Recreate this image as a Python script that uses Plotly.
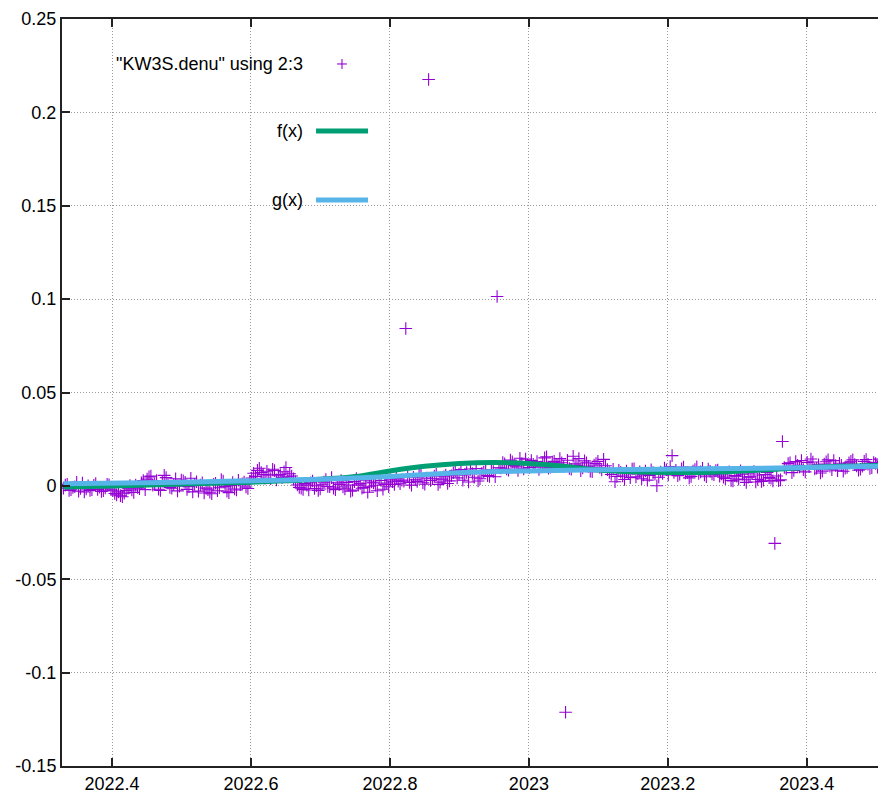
import plotly.graph_objects as go

# ---------------- data ----------------
# observation epochs: two interleaved sets, each one sample every 2 days
t_start_a = 2022.330          # first set starts here (decimal year)
t_start_b = 2022.330 + 1 / 365.25   # second set: one day later
t_step_days = 2.0

# displacement values (mm), in time order
obs_a_mm = [
    # 2022.33 - 2022.40
    -1.2, 0.8, -2.1, -0.5, -2.8, 1.5, -1.6, -2.4, 0.3, -1.9, -3.0, -1.1, 0.6,
    # 2022.40 - 2022.45
    -2.6, -4.8, -5.3, -3.9, -1.2, -2.2, 0.4, -1.5, 2.8,
    # 2022.45 - 2022.53
    3.6, 5.2, 1.1, -1.8, 2.5, 4.4, -0.9, 0.7, -2.7, 3.1, 1.9, -0.4, -3.2, 2.2, 0.5,
    # 2022.53 - 2022.60
    -3.8, -2.1, -4.2, 1.4, -1.0, 2.6, -2.9, 0.2, -1.7, 3.0, 1.1, -0.6, 2.4,
    # 2022.60 - 2022.656
    6.8, 8.3, 7.2, 4.1, 5.9, 8.9, 3.2, 6.1, 7.6, 4.8,
    # 2022.656 - 2022.728
    5.3, 2.2, -0.8, -1.9, 0.4, 1.7, -1.4, -2.5, 0.9, 3.4, -0.5, -1.2, 1.6,
    # 2022.728 - 2022.814
    2.8, -1.6, 0.5, -2.3, 3.9, 1.2, -0.9, -3.4, 2.1, 0.3, 4.1, -1.8, 1.5, 3.2, 0.7, 2.5,
    # 2022.814 - 2022.886
    3.1, 84.3, 1.8, 4.6, 2.4, 5.7, 0.9, 217.6, 3.8, 6.2, 2.0, 4.9, 1.3,
    # 2022.886 - 2022.958
    5.4, 8.1, 6.3, 3.0, 7.2, 9.0, 4.6, 2.6, 6.8, 8.4, 5.1, 7.7, 101.4,
    # 2022.958 - 2023.045
    9.6, 11.8, 8.4, 12.9, 10.2, 14.8, 9.1, 11.3, 13.6, 10.7, 8.8, 12.2, 15.6, 10.0, 13.1, 11.5,
    # 2023.045 - 2023.117
    12.4, -121.2, 9.3, 15.9, 11.0, 8.1, 13.4, 10.5, 7.6, 12.0, 9.8, 14.2, 8.7,
    # 2023.117 - 2023.188
    6.1, 2.2, 8.4, 5.3, 7.9, 4.4, 9.2, 6.7, 3.8, 8.0, 5.6, 7.1, 0.1,
    # 2023.188 - 2023.275
    7.4, 9.6, 5.8, 16.2, 8.3, 6.2, 10.1, 7.0, 5.1, 8.8, 6.6, 9.4, 4.9, 7.8, 6.0, 8.5,
    # 2023.275 - 2023.36
    6.4, 3.9, 7.5, 2.6, 5.2, 8.1, 3.3, 4.7, 6.9, 2.1, 5.8, 3.0, 7.2, 4.1, -30.8, 2.8,
    # 2023.36 - 2023.52
    23.8, 9.1, 12.4, 8.2, 11.0, 13.6, 7.5, 10.3, 12.8, 9.4, 6.9, 11.7, 13.9, 8.6,
    10.9, 12.1, 7.8, 9.9, 13.2, 11.4, 8.4, 10.6, 14.1, 9.3, 12.5, 10.0, 13.4, 11.2,
]

obs_b_mm = [
    0.4, -2.5, -0.9, 1.9, -1.4, -3.3, 0.1, -2.0, 1.2, -0.7, -2.6, 0.9, -1.8,
    -4.1, -3.2, -5.8, -2.4, 0.2, -3.5, -0.8, 1.6, -2.0,
    4.8, 0.3, 2.9, -2.4, 5.6, 1.4, -1.3, 3.8, -0.2, 2.7, -1.9, 4.1, 0.9, -2.8, 1.7,
    -1.2, -3.4, 0.8, -2.6, 3.4, -0.4, -3.6, 1.8, -2.2, 0.6, 2.1, -1.4, 4.2,
    5.1, 9.4, 6.0, 7.8, 3.9, 8.2, 5.4, 4.5, 9.8, 6.5,
    3.8, 0.5, -1.3, 1.2, -2.2, 2.6, 0.1, -1.7, 2.0, -0.3, 4.4, -2.0, 0.7,
    -0.6, 1.9, -2.8, 2.3, 0.4, -1.3, 3.0, -0.2, 1.6, -2.6, 2.9, 0.8, -0.5, 2.2, 4.0, 1.1,
    2.5, 5.0, 0.4, 3.3, 6.0, 1.7, 4.2, 2.9, 5.3, 0.8, 3.6, 5.8, 2.7,
    7.0, 4.3, 8.8, 5.9, 2.1, 6.6, 9.3, 3.8, 7.4, 5.5, 8.6, 4.9, 9.7,
    12.5, 9.0, 13.8, 10.9, 8.2, 12.0, 14.3, 9.8, 11.6, 13.0, 10.1, 15.0, 9.4, 12.7, 11.1, 14.6,
    10.4, 13.7, 8.9, 11.8, 14.6, 9.6, 12.3, 7.9, 11.2, 13.1, 8.5, 10.8, 7.2,
    8.9, 5.0, 7.3, 3.4, 6.5, 9.0, 4.8, 7.6, 5.9, 3.1, 8.6, 6.3, 4.6,
    6.7, 8.6, 10.4, 7.2, 5.5, 9.1, 6.9, 4.3, 8.0, 10.2, 7.5, 5.8, 9.0, 6.4, 8.2, 5.2,
    4.6, 7.0, 2.9, 5.5, 3.6, 6.3, 1.9, 4.9, 7.7, 3.5, 2.4, 6.1, 4.4, 2.7, 5.3, 3.2,
    9.8, 11.9, 7.1, 13.0, 10.1, 8.7, 12.6, 14.4, 9.0, 11.3, 7.9, 12.9, 10.5, 13.5,
    8.1, 11.0, 9.5, 12.3, 14.0, 10.7, 8.9, 13.1, 11.6, 9.7, 12.0, 14.3, 10.4, 12.7,
]

# fitted curve f(x) (decimal year, mm)
f_t = [2022.33, 2022.40, 2022.50, 2022.60, 2022.70, 2022.75, 2022.80, 2022.85,
       2022.90, 2022.95, 2023.00, 2023.05, 2023.10, 2023.15, 2023.20, 2023.25,
       2023.30, 2023.35, 2023.40, 2023.45, 2023.52]
f_mm = [-0.6, 0.0, 1.0, 2.0, 3.5, 5.0, 8.0, 10.5,
        12.0, 12.5, 12.0, 10.5, 8.5, 7.5, 7.2, 7.2,
        7.8, 8.8, 9.8, 10.5, 11.0]

# fitted curve g(x) (decimal year, mm)
g_t = [2022.33, 2022.50, 2022.70, 2022.80, 2022.90, 2023.00, 2023.10,
       2023.20, 2023.30, 2023.40, 2023.52]
g_mm = [1.2, 2.0, 3.6, 5.0, 7.0, 8.0, 8.6, 9.0, 9.3, 9.8, 10.6]

x_ticks = [2022.4, 2022.6, 2022.8, 2023.0, 2023.2, 2023.4]
x_tick_labels = ["2022.4", "2022.6", "2022.8", "2023", "2023.2", "2023.4"]
y_ticks = [-0.15, -0.1, -0.05, 0.0, 0.05, 0.1, 0.15, 0.2, 0.25]
y_tick_labels = ["-0.15", "-0.1", "-0.05", "0", "0.05", "0.1", "0.15", "0.2", "0.25"]

legend_labels = ['"KW3S.denu" using 2:3', "f(x)", "g(x)"]

# ---------------- build ----------------
obs_t, obs_y = [], []
for i in range(len(obs_a_mm)):
    obs_t.append(t_start_a + i * t_step_days / 365.25)
    obs_y.append(obs_a_mm[i] / 1000.0)
    if i < len(obs_b_mm):
        obs_t.append(t_start_b + i * t_step_days / 365.25)
        obs_y.append(obs_b_mm[i] / 1000.0)
f_y = [v / 1000.0 for v in f_mm]
g_y = [v / 1000.0 for v in g_mm]

PURPLE = "#9400d3"
GREEN = "#009e73"
BLUE = "#56b4e9"
FONT = "Liberation Sans, Arial, sans-serif"

fig = go.Figure()
fig.add_trace(go.Scatter(
    x=obs_t, y=obs_y, mode="markers",
    marker=dict(symbol="cross-thin-open", size=9, color=PURPLE,
                line=dict(color=PURPLE, width=1.1)),
    showlegend=False, cliponaxis=True))
fig.add_trace(go.Scatter(
    x=f_t, y=f_y, mode="lines", line=dict(color=GREEN, width=5, shape="spline"),
    showlegend=False))
fig.add_trace(go.Scatter(
    x=g_t, y=g_y, mode="lines", line=dict(color=BLUE, width=5, shape="spline"),
    showlegend=False))

# page body has an 8px margin, so the figure is 8px smaller than the window
W, H = 878, 790
L, R, T, B = 54, 0, 11, 32

fig.update_layout(
    width=W, height=H,
    margin=dict(l=L, r=R, t=T, b=B),
    paper_bgcolor="white", plot_bgcolor="white",
    font=dict(family=FONT, size=18, color="black"),
    showlegend=False,
)
fig.update_xaxes(
    range=[2022.328, 2023.514],
    tickvals=x_ticks, ticktext=x_tick_labels,
    ticks="inside", ticklen=8, tickwidth=1.5, tickcolor="#222",
    showline=True, linecolor="#222", linewidth=2, mirror="ticks",
    showgrid=True, gridcolor="#9a9a9a", griddash="1px,2px", gridwidth=1,
    zeroline=False, tickfont=dict(size=18, family=FONT),
)
fig.update_yaxes(
    range=[-0.15, 0.25],
    tickvals=y_ticks, ticktext=y_tick_labels,
    ticks="inside", ticklen=8, tickwidth=1.5, tickcolor="#222",
    showline=True, linecolor="#222", linewidth=2, mirror=False,
    showgrid=True, gridcolor="#9a9a9a", griddash="1px,2px", gridwidth=1,
    zeroline=False, tickfont=dict(size=18, family=FONT),
)

# ---- gnuplot-style key (text right-aligned, sample to its right) ----
key_text_x = 0.2949
key_rows_y = [0.9398, 0.8500, 0.7577]
sample_x0, sample_x1, sample_xc = 0.3083, 0.3714, 0.3398
for label, yy in zip(legend_labels, key_rows_y):
    fig.add_annotation(x=key_text_x, y=yy, xref="paper", yref="paper",
                       text=label, showarrow=False, xanchor="right", yanchor="middle",
                       font=dict(size=18, family=FONT, color="black"))
# cross sample for points
fig.add_shape(type="line", xref="paper", yref="paper",
              x0=sample_xc - 0.006, x1=sample_xc + 0.006, y0=key_rows_y[0], y1=key_rows_y[0],
              line=dict(color=PURPLE, width=1.1))
fig.add_shape(type="line", xref="paper", yref="paper",
              x0=sample_xc, x1=sample_xc, y0=key_rows_y[0] - 0.0067, y1=key_rows_y[0] + 0.0067,
              line=dict(color=PURPLE, width=1.1))
fig.add_shape(type="line", xref="paper", yref="paper",
              x0=sample_x0, x1=sample_x1, y0=key_rows_y[1], y1=key_rows_y[1],
              line=dict(color=GREEN, width=5))
fig.add_shape(type="line", xref="paper", yref="paper",
              x0=sample_x0, x1=sample_x1, y0=key_rows_y[2], y1=key_rows_y[2],
              line=dict(color=BLUE, width=5))

fig.write_html("out.html")
